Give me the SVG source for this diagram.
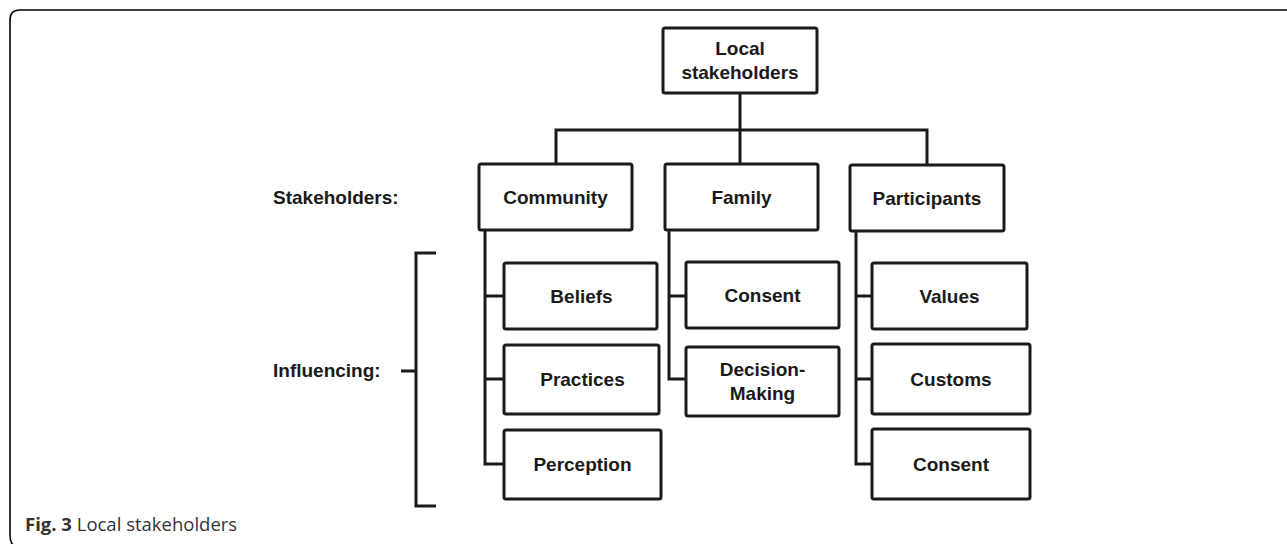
<svg xmlns="http://www.w3.org/2000/svg" width="1287" height="544" viewBox="0 0 1287 544">
  <style>
    .box { fill: #ffffff; stroke: #1a1a1a; stroke-width: 3; }
    .lbl { font-family: "Liberation Sans", Arial, sans-serif; font-weight: bold; font-size: 19px; fill: #1a1a1a; text-anchor: middle; }
    .side { font-family: "Liberation Sans", Arial, sans-serif; font-weight: bold; font-size: 19px; fill: #1a1a1a; }
    .wire { fill: none; stroke: #1a1a1a; stroke-width: 3; stroke-linejoin: miter; }
    .frame { fill: none; stroke: #000000; stroke-width: 1.6; }
    .cap { font-family: "Open Sans", "Noto Sans", sans-serif; font-size: 18.5px; fill: #333333; }
  </style>

  <!-- figure frame -->
  <path class="frame" d="M 1287 10 H 20 Q 10 10 10 20 V 535 Q 10 542 13 545"/>

  <!-- connectors -->
  <g id="connectors">
    <!-- root to stakeholder groups -->
    <path class="wire" d="M 740 93 V 130"/>
    <path class="wire" d="M 556 164 V 130 H 927 V 165"/>
    <path class="wire" d="M 740 130 V 164"/>
    <!-- community trunk -->
    <path class="wire" d="M 485 230 V 464 H 504"/>
    <path class="wire" d="M 485 296 H 504"/>
    <path class="wire" d="M 485 379 H 504"/>
    <!-- family trunk -->
    <path class="wire" d="M 669 230 V 379 H 686"/>
    <path class="wire" d="M 669 296 H 686"/>
    <!-- participants trunk -->
    <path class="wire" d="M 856 231 V 464 H 872"/>
    <path class="wire" d="M 856 296 H 872"/>
    <path class="wire" d="M 856 379 H 872"/>
    <!-- influencing bracket -->
    <path class="wire" d="M 436 253 H 416 V 506 H 436"/>
    <path class="wire" d="M 401 371 H 416"/>
  </g>

  <!-- side labels -->
  <text class="side" x="273" y="204">Stakeholders:</text>
  <text class="side" x="273" y="377">Influencing:</text>

  <!-- root -->
  <g id="local-stakeholders">
    <rect class="box" x="663" y="28" width="154" height="65" rx="2"/>
    <text class="lbl" x="740" y="55">Local</text>
    <text class="lbl" x="740" y="79">stakeholders</text>
  </g>

  <!-- stakeholder groups -->
  <g id="community">
    <rect class="box" x="479" y="164" width="153" height="66" rx="2"/>
    <text class="lbl" x="555.5" y="204">Community</text>
  </g>
  <g id="family">
    <rect class="box" x="665" y="164" width="153" height="66" rx="2"/>
    <text class="lbl" x="741.5" y="204">Family</text>
  </g>
  <g id="participants">
    <rect class="box" x="850" y="165" width="154" height="66" rx="2"/>
    <text class="lbl" x="927" y="205">Participants</text>
  </g>

  <!-- community influences -->
  <g id="beliefs">
    <rect class="box" x="504" y="263" width="153" height="66" rx="2"/>
    <text class="lbl" x="581.5" y="303">Beliefs</text>
  </g>
  <g id="practices">
    <rect class="box" x="504" y="345" width="155" height="69" rx="2"/>
    <text class="lbl" x="582.5" y="386">Practices</text>
  </g>
  <g id="perception">
    <rect class="box" x="504" y="430" width="157" height="69" rx="2"/>
    <text class="lbl" x="582.5" y="471">Perception</text>
  </g>

  <!-- family influences -->
  <g id="family-consent">
    <rect class="box" x="686" y="262" width="153" height="66" rx="2"/>
    <text class="lbl" x="762.5" y="302">Consent</text>
  </g>
  <g id="decision-making">
    <rect class="box" x="686" y="347" width="153" height="69" rx="2"/>
    <text class="lbl" x="762.5" y="376">Decision-</text>
    <text class="lbl" x="762.5" y="400">Making</text>
  </g>

  <!-- participant influences -->
  <g id="values">
    <rect class="box" x="872" y="263" width="155" height="66" rx="2"/>
    <text class="lbl" x="949.5" y="303">Values</text>
  </g>
  <g id="customs">
    <rect class="box" x="872" y="344" width="158" height="70" rx="2"/>
    <text class="lbl" x="951" y="386">Customs</text>
  </g>
  <g id="participant-consent">
    <rect class="box" x="872" y="429" width="158" height="70" rx="2"/>
    <text class="lbl" x="951" y="471">Consent</text>
  </g>

  <!-- caption -->
  <text class="cap" x="25" y="531"><tspan font-weight="bold">Fig. 3</tspan> Local stakeholders</text>
</svg>
